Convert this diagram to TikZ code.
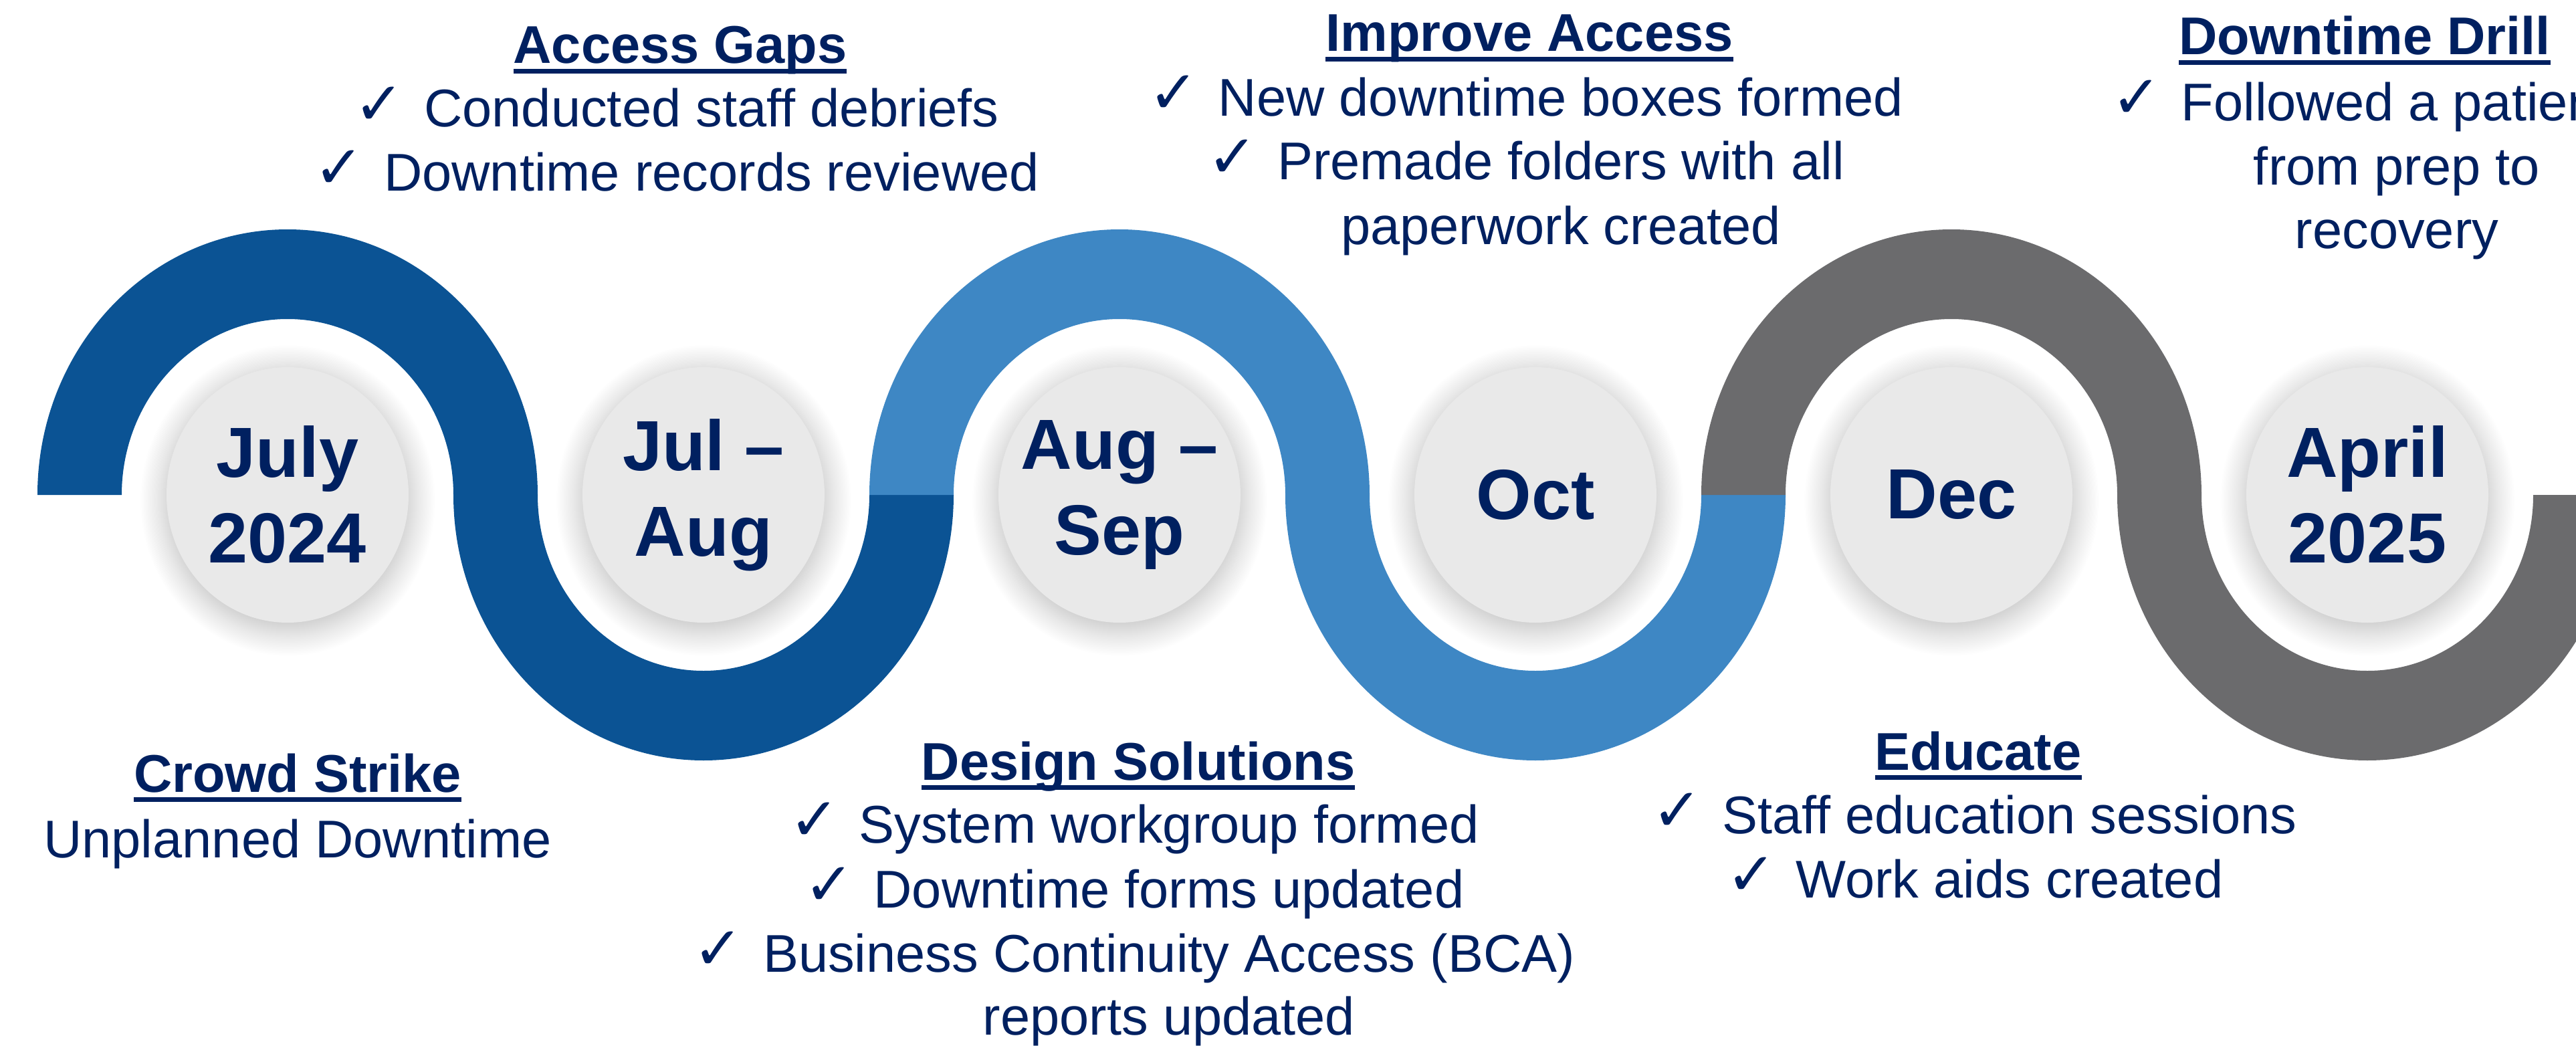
\documentclass[tikz,border=0pt]{standalone}
\usepackage{fontspec}
\setmainfont{Liberation Sans}
\newfontfamily\tickfont{DejaVu Sans}
\usetikzlibrary{shapes}
\pgfdeclarelayer{edgelayer}
\pgfdeclarelayer{nodelayer}
\pgfsetlayers{edgelayer,nodelayer,main}
\definecolor{navy}{RGB}{0,32,96}
\definecolor{wavedark}{RGB}{11,83,148}
\definecolor{wavelight}{RGB}{62,135,196}
\definecolor{wavegray}{RGB}{107,107,109}
\definecolor{circfill}{RGB}{233,233,233}
\definecolor{halogray}{RGB}{205,205,205}
\colorlet{halomid}{halogray!45}
\pgfdeclareradialshading{circhalo}{\pgfpoint{0bp}{0bp}}{color(0bp)=(halogray); color(19bp)=(halogray); color(22bp)=(halomid); color(25bp)=(white); color(50bp)=(white)}
\newsavebox\headbox
\newcommand{\ulhead}[1]{\sbox\headbox{#1}\rlap{\rule[-0.19em]{\wd\headbox}{0.095em}}\usebox\headbox}
% bands of the wave, around a date circle
\newcommand{\bandup}[2]{\fill[#1] ([xshift=-3.74cm]#2.center) arc[start angle=180, end angle=0, x radius=3.74, y radius=3.97] -- ([xshift=2.48cm]#2.center) arc[start angle=0, end angle=180, x radius=2.48, y radius=2.63] -- cycle;}
\newcommand{\banddown}[2]{\fill[#1] ([xshift=-3.74cm]#2.center) arc[start angle=180, end angle=360, x radius=3.74, y radius=3.97] -- ([xshift=2.48cm]#2.center) arc[start angle=360, end angle=180, x radius=2.48, y radius=2.63] -- cycle;}
\tikzstyle{none}=[inner sep=0pt]
\tikzstyle{datecirc}=[ellipse,fill=circfill,minimum width=3.62cm,minimum height=3.82cm,inner sep=0pt]
\tikzstyle{datetext}=[inner sep=0pt,align=center,text=navy,font=\bfseries\fontsize{30.2}{36.4}\selectfont]
\tikzstyle{phasehead}=[inner sep=0pt,anchor=base,text=navy,font=\bfseries\fontsize{22.6}{27}\selectfont]
\tikzstyle{phaseitem}=[inner sep=0pt,anchor=base,text=navy,font=\fontsize{22.6}{27}\selectfont]
\tikzstyle{phasetick}=[inner sep=0pt,anchor=base east,xshift=-0.28cm,yshift=0.04cm,text=navy,font=\tickfont\fontsize{25.5}{27}\selectfont]
\tikzstyle{halo}=[shading=circhalo]

\begin{document}
\begin{tikzpicture}
	\useasboundingbox (0,0) rectangle (38.52,15.63);
	\begin{pgfonlayer}{nodelayer}
		\node [style=datecirc, label={[datetext]center:{July\\2024}}] (jul24) at (4.30, 8.23) {};
		\node [style=datecirc, label={[datetext]center:{Jul –\\Aug}}] (julaug) at (10.52, 8.23) {};
		\node [style=datecirc, label={[datetext]center:{Aug –\\Sep}}] (augsep) at (16.74, 8.23) {};
		\node [style=datecirc, label={[datetext]center:{Oct}}] (oct) at (22.96, 8.23) {};
		\node [style=datecirc, label={[datetext]center:{Dec}}] (dec) at (29.18, 8.23) {};
		\node [style=datecirc, label={[datetext]center:{April\\2025}}] (apr25) at (35.40, 8.23) {};
	\end{pgfonlayer}
	\begin{pgfonlayer}{edgelayer}
		\shade[halo] ([yshift=-0.08cm]jul24.center) ellipse [x radius=2.21, y radius=2.33];
		\shade[halo] ([yshift=-0.08cm]julaug.center) ellipse [x radius=2.21, y radius=2.33];
		\shade[halo] ([yshift=-0.08cm]augsep.center) ellipse [x radius=2.21, y radius=2.33];
		\shade[halo] ([yshift=-0.08cm]oct.center) ellipse [x radius=2.21, y radius=2.33];
		\shade[halo] ([yshift=-0.08cm]dec.center) ellipse [x radius=2.21, y radius=2.33];
		\shade[halo] ([yshift=-0.08cm]apr25.center) ellipse [x radius=2.21, y radius=2.33];
		\bandup{wavedark}{jul24}
		\banddown{wavedark}{julaug}
		\bandup{wavelight}{augsep}
		\banddown{wavelight}{oct}
		\bandup{wavegray}{dec}
		\banddown{wavegray}{apr25}
	\end{pgfonlayer}
	% upper phases
	\node [style=phasehead] (ag) at (10.17, 14.68) {\ulhead{Access Gaps}};
	\node [style=phaseitem] (ag1) at (10.64, 13.73) {Conducted staff debriefs};
	\node [style=phaseitem] (ag2) at (10.64, 12.78) {Downtime records reviewed};
	\node [style=phasetick] (ag1t) at (ag1.base west) {✓};
	\node [style=phasetick] (ag2t) at (ag2.base west) {✓};
	\node [style=phasehead] (ia) at (22.87, 14.86) {\ulhead{Improve Access}};
	\node [style=phaseitem] (ia1) at (23.34, 13.90) {New downtime boxes formed};
	\node [style=phaseitem] (ia2) at (23.34, 12.94) {Premade folders with all};
	\node [style=phaseitem] (ia2b) at (23.34, 11.98) {paperwork created};
	\node [style=phasetick] (ia1t) at (ia1.base west) {✓};
	\node [style=phasetick] (ia2t) at (ia2.base west) {✓};
	\node [style=phasehead] (dd) at (35.36, 14.81) {\ulhead{Downtime Drill}};
	\node [style=phaseitem] (dd1) at (35.84, 13.83) {Followed a patient};
	\node [style=phaseitem] (dd1b) at (35.84, 12.87) {from prep to};
	\node [style=phaseitem] (dd1c) at (35.84, 11.91) {recovery};
	\node [style=phasetick] (dd1t) at (dd1.base west) {✓};
	% lower phases
	\node [style=phasehead] (cs) at (4.45, 3.79) {\ulhead{Crowd Strike}};
	\node [style=phaseitem] (cs1) at (4.45, 2.81) {Unplanned Downtime};
	\node [style=phasehead] (ds) at (17.02, 3.97) {\ulhead{Design Solutions}};
	\node [style=phaseitem] (ds1) at (17.48, 3.03) {System workgroup formed};
	\node [style=phaseitem] (ds2) at (17.48, 2.06) {Downtime forms updated};
	\node [style=phaseitem] (ds3) at (17.48, 1.10) {Business Continuity Access (BCA)};
	\node [style=phaseitem] (ds3b) at (17.48, 0.16) {reports updated};
	\node [style=phasetick] (ds1t) at (ds1.base west) {✓};
	\node [style=phasetick] (ds2t) at (ds2.base west) {✓};
	\node [style=phasetick] (ds3t) at (ds3.base west) {✓};
	\node [style=phasehead] (ed) at (29.58, 4.12) {\ulhead{Educate}};
	\node [style=phaseitem] (ed1) at (30.05, 3.17) {Staff education sessions};
	\node [style=phaseitem] (ed2) at (30.05, 2.21) {Work aids created};
	\node [style=phasetick] (ed1t) at (ed1.base west) {✓};
	\node [style=phasetick] (ed2t) at (ed2.base west) {✓};
\end{tikzpicture}
\end{document}
